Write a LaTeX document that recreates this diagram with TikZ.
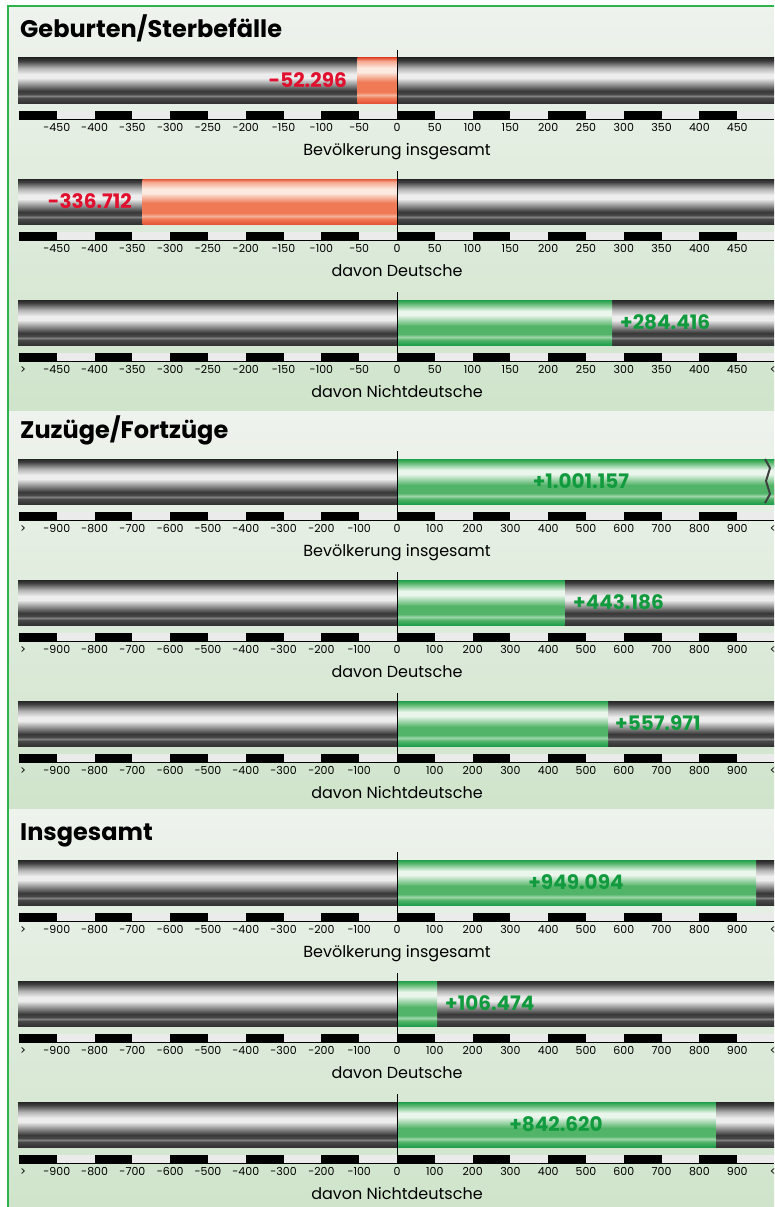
\documentclass[tikz,border=0pt]{standalone}
\usepackage{fontspec}
\setmainfont{Poppins}
\usepackage{tikz}

\definecolor{frame}{HTML}{2DB34A}
\definecolor{bgtop}{HTML}{EEF3ED}
\definecolor{bgbot}{HTML}{CFE4CB}
\definecolor{minus}{HTML}{E0102E}
\definecolor{plus}{HTML}{119B3E}
\definecolor{oraD}{HTML}{E4553A}
\definecolor{oraM}{HTML}{EF7A55}
\definecolor{oraL}{HTML}{FCEAE0}
\definecolor{grD}{HTML}{1F9E4C}
\definecolor{grM}{HTML}{52B468}
\definecolor{grL}{HTML}{EAF6EC}

% bar fillings (25bp = lower edge, 75bp = upper edge of the bar)
\pgfdeclareverticalshading{metal}{100bp}{color(0bp)=(black!80); color(25bp)=(black!80);
  color(30.5bp)=(black!72); color(32.8bp)=(black!50); color(35bp)=(black!72);
  color(38.3bp)=(black!78); color(45bp)=(black!45); color(52.8bp)=(black!7);
  color(57.2bp)=(black!7); color(63.9bp)=(black!30); color(71.7bp)=(black!75);
  color(75bp)=(black!85); color(100bp)=(black!85)}
\pgfdeclareverticalshading{orabar}{100bp}{color(0bp)=(oraD); color(25bp)=(oraD);
  color(30.6bp)=(oraM); color(33.9bp)=(oraM!50!oraL); color(37.2bp)=(oraM);
  color(48.3bp)=(oraM); color(59.4bp)=(oraL); color(63.9bp)=(oraL);
  color(71.7bp)=(oraM!60!oraL); color(75bp)=(oraD); color(100bp)=(oraD)}
\pgfdeclareverticalshading{grbar}{100bp}{color(0bp)=(grD); color(25bp)=(grD);
  color(30.6bp)=(grM); color(33.9bp)=(grM!50!grL); color(37.2bp)=(grM);
  color(46.1bp)=(grM); color(58.3bp)=(grL); color(62.8bp)=(grL);
  color(71.7bp)=(grM); color(75bp)=(grD); color(100bp)=(grD)}

\begin{document}
\begin{tikzpicture}[x=1pt,y=-1pt,
    title/.style={anchor=base west,inner sep=0,font=\fontsize{24}{28}\selectfont\bfseries},
    value/.style={inner sep=0,font=\fontsize{20}{24}\selectfont\bfseries},
    ticklab/.style={anchor=base,inner sep=0,font=\fontsize{11}{13}\selectfont},
    caption/.style={anchor=base,inner sep=0,font=\fontsize{16}{19}\selectfont}]
\useasboundingbox (0,0) rectangle (774,1207);

% background of the three blocks
\foreach \top/\bot in {6/411,411/809,809/1207}
  \shade[top color=bgtop,bottom color=bgbot] (8,\top) rectangle (774,\bot);
\draw[frame,line width=1.5pt] (8,1207) -- (8,6) -- (774,6);

\node[title] (t1) at (20,38) {Geburten/Sterbefälle};
\node[title] (t2) at (20,438) {Zuzüge/Fortzüge};
\node[title] (t3) at (20,840) {Insgesamt};

% bar, scale and caption: top / step / arrows / caption
\foreach \y/\s/\arr/\cap [count=\n] in {58/50/0/Bevölkerung insgesamt,
    179/50/0/davon Deutsche, 300/50/1/davon Nichtdeutsche,
    459/100/1/Bevölkerung insgesamt, 580/100/1/davon Deutsche,
    701/100/1/davon Nichtdeutsche, 860/100/1/Bevölkerung insgesamt,
    981/100/1/davon Deutsche, 1102/100/1/davon Nichtdeutsche}
{
  \shade[shading=metal] (18,\y) rectangle (774,\y+45);
  \fill[black!8] (19,\y+53) rectangle (774,\y+61);
  \foreach \i in {-10,-8,...,8}
    \fill (397+\i*37.8,\y+53) rectangle (397+\i*37.8+37.8,\y+61);
  \draw[line width=1pt] (19,\y+61) -- (774,\y+61);
  \foreach \i in {-9,...,9}{
    \pgfmathtruncatemacro\num{\i*\s}
    \node[ticklab] (l\n\i) at (397+\i*37.8,\y+73) {\num};
  }
  \ifnum\arr=1
    \node[ticklab] (gt\n) at (23,\y+73) {>};
    \node[ticklab] (lt\n) at (773,\y+73) {<};
  \fi
  \node[caption] (c\n) at (397,\y+97) {\cap};
}

% values: top / end / filling / text colour / anchor / x of label / label
\foreach \y/\e/\col/\tc/\anc/\lx/\lab in {58/357.5/orabar/minus/east/347/-52.296,
    179/142.5/orabar/minus/east/132/-336.712, 300/612/grbar/plus/west/620/+284.416,
    459/774/grbar/plus/center/581/+1.001.157, 580/564.5/grbar/plus/west/573/+443.186,
    701/608/grbar/plus/west/615/+557.971, 860/756/grbar/plus/center/576/+949.094,
    981/437/grbar/plus/west/445/+106.474, 1102/715.5/grbar/plus/center/556/+842.620}
{
  \shade[shading=\col] (397,\y) rectangle (\e,\y+45);
  \node[value,text=\tc,anchor=\anc] (v\y) at (\lx,\y+22.5) {\lab};
  \draw[line width=1pt] (397,\y-8) -- (397,\y+61);
}

% scale break
\draw[black!75,line width=2pt] (765,459) -- (770,468) -- (766,481) -- (770,494) -- (765,503);
\end{tikzpicture}
\end{document}
